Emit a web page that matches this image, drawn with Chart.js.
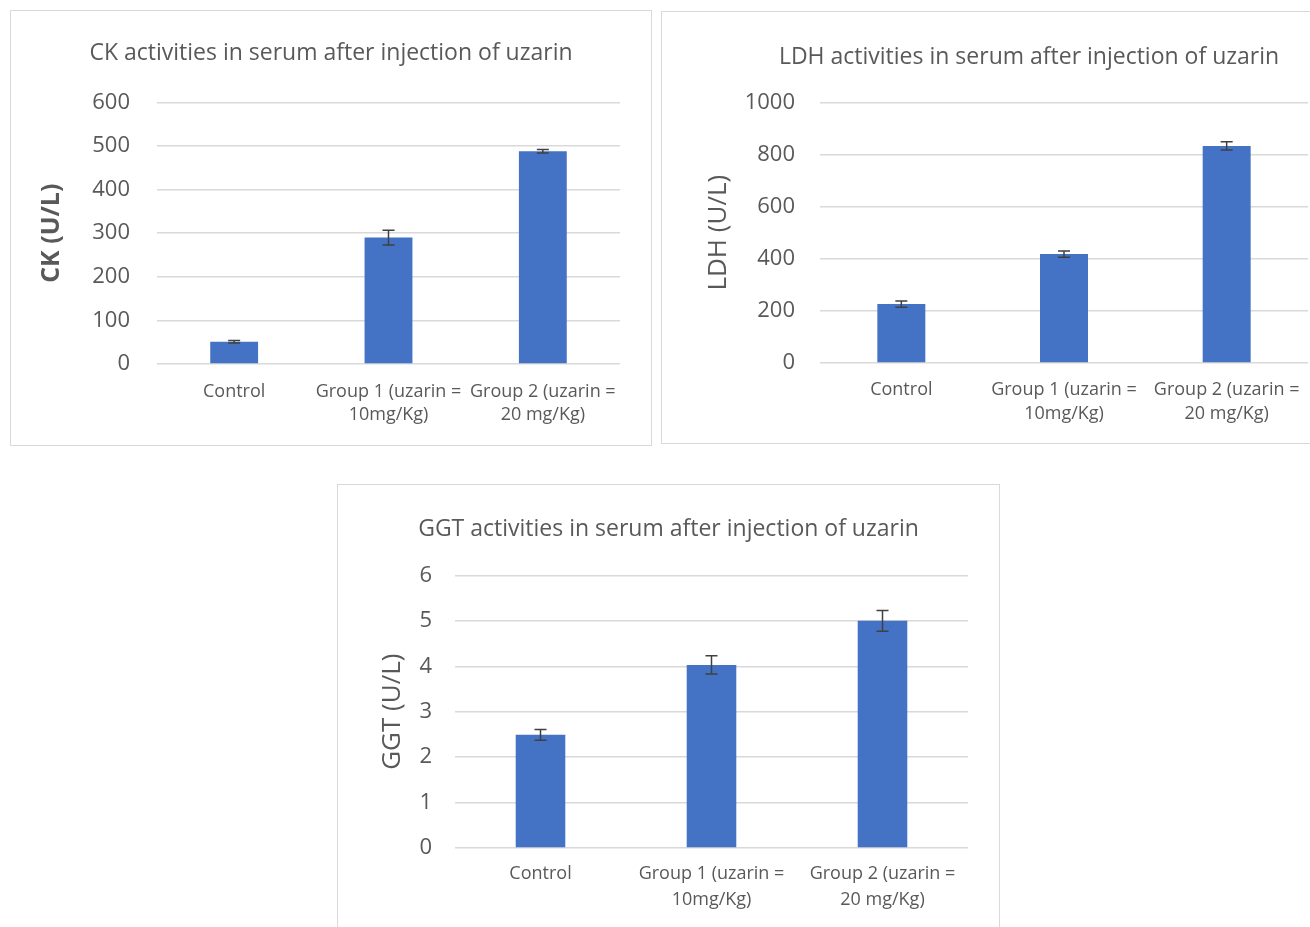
<!DOCTYPE html>
<html>
<head>
<meta charset="utf-8">
<title>uzarin serum enzymes</title>
<script src="https://cdn.jsdelivr.net/npm/chart.js@4.4.1/dist/chart.umd.min.js"></script>
<style>
  html, body { margin:0; padding:0; background:#fff; overflow:hidden; width:1310px; height:927px; }
  .box { position:absolute; border:1px solid #d9d9d9; background:#fff; }
  .box canvas { display:block; }
</style>
</head>
<body>
<div class="box" style="left:10px;top:10px;width:640px;height:434px;"><canvas id="ck" width="640" height="434"></canvas></div>
<div class="box" style="left:661px;top:11px;width:734px;height:431px;"><canvas id="ldh" width="734" height="431"></canvas></div>
<div class="box" style="left:337px;top:484px;width:661px;height:460px;"><canvas id="ggt" width="661" height="460"></canvas></div>

<script>
// groups (x axis)
var groups = ['Control', ['Group 1 (uzarin =', '10mg/Kg)'], ['Group 2 (uzarin =', '20 mg/Kg)']];

// CK (U/L)
var ckMean = [51, 290, 488];
var ckErr  = [3, 17, 4];
var ckTicks = [0, 100, 200, 300, 400, 500, 600];

// LDH (U/L)
var ldhMean = [226, 418, 833];
var ldhErr  = [12, 12, 16];
var ldhTicks = [0, 200, 400, 600, 800, 1000];

// GGT (U/L)
var ggtMean = [2.49, 4.03, 5.0];
var ggtErr  = [0.12, 0.2, 0.23];
var ggtTicks = [0, 1, 2, 3, 4, 5, 6];

var FONT = "'Open Sans', 'Liberation Sans', sans-serif";
var TXT = '#595959';

// draws the +/- error whiskers on top of every bar
var errorBars = {
	id: 'errorBars',
	afterDatasetsDraw: function(chart){
		var ctx = chart.ctx;
		var ds = chart.data.datasets[0];
		var ys = chart.scales.y;
		var meta = chart.getDatasetMeta(0);
		ctx.save();
		ctx.strokeStyle = '#404040';
		ctx.lineWidth = 1.5;
		meta.data.forEach(function(bar, i){
			var hi = ys.getPixelForValue(ds.data[i] + ds.errors[i]);
			var lo = ys.getPixelForValue(ds.data[i] - ds.errors[i]);
			var x = bar.x;
			ctx.beginPath();
			ctx.moveTo(x, hi); ctx.lineTo(x, lo);
			ctx.moveTo(x - 6, hi); ctx.lineTo(x + 6, hi);
			ctx.moveTo(x - 6, lo); ctx.lineTo(x + 6, lo);
			ctx.stroke();
		});
		ctx.restore();
	}
};

function bar_chart(id, title, yTitle, yBold, means, errs, ticks, lay){
	var ctx = document.getElementById(id).getContext('2d');
	return new Chart(ctx, {
		type: 'bar',
		data: {
			labels: groups,
			datasets: [{
				data: means,
				errors: errs,
				backgroundColor: '#4472C4',
				borderWidth: 0,
				categoryPercentage: 1,
				barPercentage: lay.barPct
			}]
		},
		options: {
			responsive: false,
			animation: false,
			layout: { padding: 0 },
			plugins: {
				legend: { display: false },
				tooltip: { enabled: false },
				title: {
					display: true,
					text: title,
					color: TXT,
					font: { family: FONT, size: 23, weight: 'normal', lineHeight: 1.2 },
					padding: { top: lay.titleTop, bottom: lay.titleBottom }
				}
			},
			scales: {
				x: {
					grid: { display: false, drawTicks: false },
					border: { display: false },
					ticks: {
						color: TXT,
						padding: lay.xPad,
						maxRotation: 0,
						autoSkip: false,
						font: { family: FONT, size: 18, lineHeight: lay.xLine }
					},
					afterFit: function(s){ s.height = lay.xH; }
				},
				y: {
					min: ticks[0],
					max: ticks[ticks.length - 1],
					afterBuildTicks: function(s){ s.ticks = ticks.map(function(v){ return { value: v }; }); },
					grid: { color: '#d9d9d9', lineWidth: 1.5, drawTicks: false },
					border: { display: false },
					ticks: {
						color: TXT,
						padding: lay.yPad,
						font: { family: FONT, size: 22 },
						callback: function(v){ return String(v); }
					},
					title: {
						display: true,
						text: yTitle,
						color: TXT,
						font: { family: FONT, size: lay.yTitleSize, weight: yBold ? 'bold' : 'normal', lineHeight: 1.2 },
						padding: { top: lay.yTitlePad, bottom: 0 }
					},
					afterFit: function(s){ s.width = lay.yW; }
				},
				y2: {
					type: 'linear',
					position: 'right',
					grid: { display: false },
					border: { display: false },
					ticks: { display: false },
					afterFit: function(s){ s.width = lay.rightW; }
				}
			}
		},
		plugins: [errorBars]
	});
}

var chartCK = bar_chart('ck', 'CK activities in serum after injection of uzarin', 'CK (U/L)', true,
	ckMean, ckErr, ckTicks,
	{ barPct: 0.31, titleTop: 28.2, titleBottom: 35.6, xPad: 16.5, xLine: 1.28, xH: 81,
	  yPad: 27, yTitleSize: 25, yTitlePad: 26, yW: 146, rightW: 31 });

var chartLDH = bar_chart('ldh', 'LDH activities in serum after injection of uzarin', 'LDH (U/L)', false,
	ldhMean, ldhErr, ldhTicks,
	{ barPct: 0.295, titleTop: 31.2, titleBottom: 31.6, xPad: 15, xLine: 1.33, xH: 80,
	  yPad: 25, yTitleSize: 26, yTitlePad: 41, yW: 158, rightW: 88 });

var chartGGT = bar_chart('ggt', 'GGT activities in serum after injection of uzarin', 'GGT (U/L)', false,
	ggtMean, ggtErr, ggtTicks,
	{ barPct: 0.29, titleTop: 30.2, titleBottom: 32.6, xPad: 13, xLine: 1.44, xH: 97,
	  yPad: 23, yTitleSize: 26, yTitlePad: 39.4, yW: 117, rightW: 31 });
</script>
</body>
</html>
